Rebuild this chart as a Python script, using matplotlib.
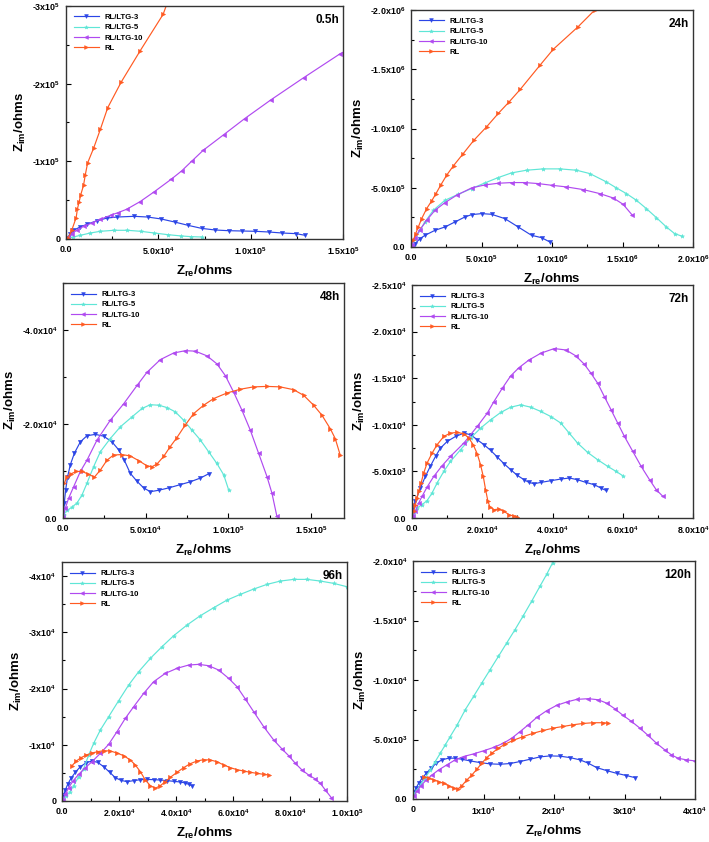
import matplotlib
matplotlib.use("Agg")
import matplotlib.pyplot as plt
from matplotlib.ticker import AutoMinorLocator

plt.rcParams['font.family'] = ['Liberation Sans', 'DejaVu Sans']
plt.rcParams['font.weight'] = 'bold'
plt.rcParams['mathtext.fontset'] = 'custom'
plt.rcParams['mathtext.rm'] = 'Liberation Sans:bold'
plt.rcParams['mathtext.bf'] = 'Liberation Sans:bold'
plt.rcParams['mathtext.it'] = 'Liberation Sans:bold'
plt.rcParams['mathtext.default'] = 'bf'

series_names = ["RL/LTG-3", "RL/LTG-5", "RL/LTG-10", "RL"]
panel_titles = ["0.5h", "24h", "48h", "72h", "96h", "120h"]

# ---------------- 0.5 h ----------------
h05_ltg3_x = [900, 2200, 4000, 7700, 11300, 16800, 22300, 27700, 36900, 44200, 51500, 58800, 66100, 73400, 80700, 88000, 95300, 102600, 109900, 117200, 124500, 129600]
h05_ltg3_y = [-1700, -6900, -11200, -15500, -18900, -23600, -27000, -28300, -29200, -28300, -25800, -21900, -17600, -13700, -11600, -10700, -10300, -9900, -9000, -7700, -6900, -4700]
h05_ltg5_x = [1300, 4000, 7700, 13100, 18600, 25900, 33200, 40500, 47800, 55100, 62400, 67900, 73400]
h05_ltg5_y = [-900, -2600, -4700, -7700, -9900, -11200, -11200, -9900, -7700, -5600, -3900, -3000, -2600]
h05_ltg10_x = [1300, 3100, 5800, 9500, 14100, 18600, 24100, 28100, 32800, 40100, 47600, 56900, 62600, 68400, 74300, 85400, 96700, 111100, 128700, 148500, 151500]
h05_ltg10_y = [-2600, -6900, -11200, -16300, -20600, -25300, -30500, -33900, -38200, -48100, -60500, -76800, -87600, -100900, -114200, -134300, -154900, -179400, -207700, -238600, -242100]
h05_rl_x = [1300, 3100, 5500, 6200, 7100, 8000, 9500, 10400, 11700, 15000, 18600, 22600, 29900, 40100, 52600, 55000]
h05_rl_y = [-1700, -11200, -27500, -39000, -47600, -57100, -69100, -82000, -97900, -117200, -141200, -169100, -202100, -242100, -289300, -305000]

# ---------------- 24 h ----------------
h24_ltg3_x = [11800, 28300, 63800, 99200, 170000, 240900, 311700, 382500, 429800, 500600, 571400, 665900, 760300, 854800, 925600, 984700]
h24_ltg3_y = [-5600, -28200, -70400, -98600, -140800, -169000, -211300, -253500, -273200, -281700, -276100, -239400, -169000, -98600, -78900, -42300]
h24_ltg5_x = [4700, 28300, 63800, 99200, 158200, 240900, 335300, 429800, 524200, 618700, 713100, 819400, 937400, 1055500, 1173600, 1268000, 1386100, 1456900, 1527700, 1598600, 1669400, 1740300, 1811100, 1870100, 1924400]
h24_ltg5_y = [-14100, -70400, -140800, -211300, -309900, -394400, -445100, -493000, -540800, -585900, -625400, -647900, -659200, -659200, -647900, -619700, -549300, -498600, -450700, -394400, -323900, -247900, -169000, -112700, -90100]
h24_ltg10_x = [4700, 28300, 63800, 111000, 170000, 240900, 323500, 429800, 524200, 618700, 713100, 807600, 902000, 996500, 1102700, 1220800, 1338800, 1433300, 1504100, 1570200]
h24_ltg10_y = [-14100, -78900, -146500, -225400, -309900, -374600, -436600, -498600, -523900, -538000, -543700, -543700, -535200, -521100, -507000, -484500, -450700, -414100, -360600, -267600]
h24_rl_x = [16500, 33100, 51900, 75600, 111000, 146400, 177100, 210200, 252700, 302200, 370700, 446300, 536000, 618700, 696600, 774500, 913800, 1008300, 1185400, 1303400]
h24_rl_y = [-56300, -112700, -169000, -239400, -323900, -388700, -450700, -521100, -605600, -687300, -788700, -901400, -1014100, -1126800, -1225400, -1329600, -1532400, -1667600, -1859200, -2000000]

# ---------------- 48 h ----------------
h48_ltg3_x = [200, 800, 1600, 2800, 4400, 6900, 10500, 14500, 19600, 24600, 29600, 33700, 37100, 40700, 44800, 48800, 52800, 57900, 63900, 71000, 77000, 83100, 88100]
h48_ltg3_y = [-350, -3200, -6000, -8800, -11300, -13800, -16200, -17500, -17800, -17400, -16200, -14500, -12300, -9500, -7800, -6400, -5600, -5900, -6400, -7100, -7700, -8500, -9400]
h48_ltg5_x = [400, 2400, 5400, 8500, 11500, 14500, 18500, 22600, 28600, 34700, 41700, 47800, 52800, 57900, 62900, 67900, 73000, 78000, 83100, 88100, 93100, 97200, 100200]
h48_ltg5_y = [-700, -1600, -2300, -3200, -4900, -7400, -10900, -14100, -16900, -19400, -21500, -23300, -24100, -24000, -23500, -22600, -20800, -18700, -16600, -14100, -11600, -9200, -6000]
h48_ltg10_x = [200, 1400, 3400, 6500, 10500, 14500, 20600, 28600, 36700, 44800, 50800, 58900, 66900, 74000, 80000, 87100, 93100, 98200, 103200, 108300, 113300, 118300, 123400, 126400, 129400]
h48_ltg10_y = [-200, -2100, -4200, -6700, -9900, -12300, -16600, -20800, -24300, -28200, -31000, -33700, -35100, -35600, -35500, -34500, -32800, -30300, -26800, -22900, -18700, -13800, -8800, -5300, -350]
h48_rl_x = [800, 2400, 4800, 8100, 11500, 14900, 19000, 22600, 26600, 30600, 35700, 40700, 45800, 50800, 53800, 56900, 60900, 64900, 68900, 74000, 79000, 85100, 91100, 99200, 107300, 115300, 123400, 131400, 139500, 145600, 151600, 156600, 161700, 164700, 167700]
h48_rl_y = [-7400, -8700, -9400, -9900, -9900, -9400, -8700, -10200, -12300, -13400, -13500, -13200, -12200, -11100, -10900, -11500, -13100, -15200, -17100, -19800, -22200, -24000, -25400, -26600, -27400, -27900, -28000, -27900, -27300, -26100, -24000, -21900, -19000, -16900, -13400]

# ---------------- 72 h ----------------
h72_ltg3_x = [200, 950, 2400, 3800, 5200, 6700, 8100, 10000, 12400, 14800, 16700, 18600, 20500, 22400, 24300, 26200, 28100, 30000, 31900, 33300, 34800, 36700, 39500, 42400, 44800, 47100, 49500, 51900, 53800, 55200]
h72_ltg3_y = [-1070, -1790, -3210, -4460, -5540, -6610, -7500, -8210, -8750, -9110, -8930, -8390, -7860, -7250, -6540, -5820, -5180, -4570, -4110, -3820, -3680, -3820, -4000, -4180, -4290, -4110, -3820, -3570, -3210, -2960]
h72_ltg5_x = [290, 670, 1430, 2860, 4290, 5710, 7140, 9050, 10950, 13810, 16670, 19520, 22380, 25240, 28100, 30950, 33810, 36670, 39520, 42380, 44760, 47140, 50000, 52860, 55720, 58100, 60000]
h72_ltg5_y = [-180, -610, -1070, -1430, -1860, -2680, -3750, -5000, -6070, -7320, -8570, -9640, -10530, -11320, -11890, -12140, -11890, -11430, -10890, -10180, -9110, -8040, -7040, -6250, -5540, -5000, -4540]
h72_ltg10_x = [290, 950, 1900, 2860, 4290, 6190, 8570, 10950, 14760, 18570, 21430, 23330, 25720, 28100, 30480, 33330, 36670, 40480, 43810, 46670, 49050, 50950, 52860, 54760, 56670, 58570, 60480, 62860, 65240, 67620, 69520, 71430]
h72_ltg10_y = [-180, -710, -1610, -2320, -3320, -4460, -5610, -6610, -8040, -9820, -11250, -12500, -13930, -15250, -16140, -16960, -17680, -18180, -18030, -17390, -16500, -15530, -14460, -13030, -11610, -10180, -8750, -7140, -5540, -4110, -3040, -2320]
h72_rl_x = [480, 950, 1430, 1900, 2570, 3330, 4290, 5710, 7140, 9050, 10950, 12860, 14760, 16190, 17430, 18570, 19520, 20290, 20950, 21620, 22190, 23330, 24760, 26190, 27620, 29050, 30000]
h72_rl_y = [-710, -1430, -2140, -2860, -3750, -4820, -5890, -6960, -7860, -8750, -9110, -9180, -9040, -8570, -7860, -6890, -5710, -4460, -3040, -1790, -1180, -890, -960, -710, -360, -180, -110]

# ---------------- 96 h ----------------
h96_ltg3_x = [120, 590, 1170, 1990, 3160, 4680, 6430, 8540, 10530, 12520, 14620, 16730, 18710, 20700, 22810, 25150, 27490, 29830, 32160, 34500, 36840, 39180, 41520, 43280, 44450, 45610]
h96_ltg3_y = [-360, -1070, -1960, -2960, -4030, -5100, -6100, -6820, -7110, -6870, -6100, -5100, -4150, -3670, -3440, -3620, -3790, -3850, -3790, -3730, -3620, -3500, -3380, -3200, -2960, -2730]
h96_ltg5_x = [350, 1520, 2690, 4090, 5850, 7600, 9360, 11110, 13450, 16370, 19880, 23390, 26900, 30990, 35090, 39180, 43860, 48540, 53220, 57900, 62570, 67250, 71930, 76610, 81290, 85970, 90640, 95320, 100000]
h96_ltg5_y = [-360, -950, -1540, -2730, -4330, -5750, -8180, -10250, -12620, -14990, -17840, -20620, -22990, -25360, -27440, -29390, -31290, -32950, -34370, -35730, -36740, -37690, -38520, -39110, -39410, -39410, -39110, -38700, -38100]
h96_ltg10_x = [350, 1170, 2340, 3860, 5850, 8190, 10530, 13450, 16370, 19300, 22220, 25150, 28660, 32160, 36260, 40350, 44450, 47950, 51460, 54970, 58480, 61400, 64330, 67250, 70760, 74270, 77190, 79530, 81870, 84210, 86550, 88890, 90640, 92400, 94500]
h96_ltg10_y = [-240, -1190, -2370, -3560, -4740, -5930, -6990, -8470, -10070, -12330, -14700, -16770, -19140, -21220, -22700, -23590, -24180, -24300, -24060, -23290, -21810, -20330, -18130, -15880, -13220, -10850, -9250, -8060, -6700, -5510, -4620, -3910, -3140, -1960, -590]
h96_rl_x = [3510, 5030, 6670, 8540, 10530, 12520, 14620, 16960, 19300, 21640, 23980, 25730, 27490, 29240, 30990, 32750, 34500, 36260, 38010, 40350, 42690, 45030, 47370, 49710, 52050, 54390, 56730, 59070, 61400, 63740, 66080, 68420, 70760, 72520]
h96_rl_y = [-6280, -7110, -7700, -8180, -8530, -8770, -8950, -8890, -8530, -8060, -7290, -6400, -5220, -3730, -2730, -2250, -2730, -3440, -4210, -5100, -5930, -6640, -7110, -7350, -7290, -6990, -6400, -5930, -5570, -5330, -5100, -4920, -4740, -4620]

# ---------------- 120 h ----------------
h120_ltg3_x = [190, 470, 800, 1270, 1890, 2550, 3300, 4100, 5050, 5990, 6930, 8110, 9530, 10940, 12360, 13770, 15190, 16600, 18020, 19430, 20850, 22260, 23680, 24860, 26040, 27450, 28870, 30280, 31460]
h120_ltg3_y = [-620, -960, -1320, -1740, -2160, -2580, -3010, -3290, -3430, -3430, -3340, -3200, -3060, -2950, -2920, -2980, -3150, -3340, -3540, -3620, -3600, -3480, -3290, -3010, -2640, -2390, -2160, -1970, -1800]
h120_ltg5_x = [90, 570, 1130, 1750, 2450, 3160, 3870, 4580, 5280, 6230, 7410, 8590, 9760, 10940, 12120, 13300, 14480, 15660, 16840, 18020, 18960, 19810]
h120_ltg5_y = [-390, -760, -1240, -1800, -2440, -3150, -3850, -4550, -5250, -6180, -7500, -8620, -9750, -10870, -11990, -13120, -14240, -15420, -16630, -17890, -18880, -19860]
h120_ltg10_x = [190, 570, 1130, 1890, 2690, 3630, 4810, 5990, 7170, 8590, 10000, 11420, 12830, 14010, 15190, 16370, 17550, 18960, 20380, 21790, 23210, 24860, 26270, 27450, 28630, 29810, 30990, 32170, 33350, 34530, 35710, 36650, 37590, 38770, 40000]
h120_ltg10_y = [-280, -670, -1120, -1600, -2020, -2440, -2870, -3290, -3570, -3790, -4050, -4330, -4690, -5110, -5670, -6240, -6850, -7420, -7870, -8150, -8370, -8430, -8340, -8060, -7580, -7020, -6520, -5960, -5340, -4690, -4130, -3710, -3430, -3290, -3200]
h120_rl_x = [1600, 2220, 2930, 3630, 4340, 5050, 5760, 6320, 6930, 7640, 8350, 9060, 9760, 10470, 11180, 12120, 13070, 14250, 15660, 17080, 18490, 19910, 21320, 22740, 24150, 25570, 26980, 27690]
h120_rl_y = [-1880, -1740, -1600, -1460, -1320, -1120, -900, -820, -1120, -1600, -2020, -2500, -3010, -3480, -3850, -4270, -4610, -4940, -5250, -5530, -5760, -5960, -6100, -6240, -6350, -6410, -6410, -6380]

# ---------------- tick values and labels ----------------
p1_xticks = [0, 5e4, 1e5, 1.5e5]
p1_xlabels = ["0.0", "5.0x10$^4$", "1.0x10$^5$", "1.5x10$^5$"]
p1_yticks = [0, -1e5, -2e5, -3e5]
p1_ylabels = ["0", "-1x10$^5$", "-2x10$^5$", "-3x10$^5$"]
p2_xticks = [0, 5e5, 1e6, 1.5e6, 2e6]
p2_xlabels = ["0.0", "5.0x10$^5$", "1.0x10$^6$", "1.5x10$^6$", "2.0x10$^6$"]
p2_yticks = [0, -5e5, -1e6, -1.5e6, -2e6]
p2_ylabels = ["0.0", "-5.0x10$^5$", "-1.0x10$^6$", "-1.5x10$^6$", "-2.0x10$^6$"]
p3_xticks = [0, 5e4, 1e5, 1.5e5]
p3_xlabels = ["0.0", "5.0x10$^4$", "1.0x10$^5$", "1.5x10$^5$"]
p3_yticks = [0, -2e4, -4e4]
p3_ylabels = ["0.0", "-2.0x10$^4$", "-4.0x10$^4$"]
p4_xticks = [0, 2e4, 4e4, 6e4, 8e4]
p4_xlabels = ["0.0", "2.0x10$^4$", "4.0x10$^4$", "6.0x10$^4$", "8.0x10$^4$"]
p4_yticks = [0, -5e3, -1e4, -1.5e4, -2e4, -2.5e4]
p4_ylabels = ["0.0", "-5.0x10$^3$", "-1.0x10$^4$", "-1.5x10$^4$", "-2.0x10$^4$", "-2.5x10$^4$"]
p5_xticks = [0, 2e4, 4e4, 6e4, 8e4, 1e5]
p5_xlabels = ["0.0", "2.0x10$^4$", "4.0x10$^4$", "6.0x10$^4$", "8.0x10$^4$", "1.0x10$^5$"]
p5_yticks = [0, -1e4, -2e4, -3e4, -4e4]
p5_ylabels = ["0", "-1x10$^4$", "-2x10$^4$", "-3x10$^4$", "-4x10$^4$"]
p6_xticks = [0, 1e4, 2e4, 3e4, 4e4]
p6_xlabels = ["0", "1x10$^4$", "2x10$^4$", "3x10$^4$", "4x10$^4$"]
p6_yticks = [0, -5e3, -1e4, -1.5e4, -2e4]
p6_ylabels = ["0.0", "-5.0x10$^3$", "-1.0x10$^4$", "-1.5x10$^4$", "-2.0x10$^4$"]

colors = ["#2b45e6", "#5fe6d6", "#b04af0", "#ff5a22"]
markers = ["v", "*", "<", ">"]

panels = [
    dict(rect=[66, 6, 343, 239], title=panel_titles[0],
         data=[(h05_ltg3_x, h05_ltg3_y), (h05_ltg5_x, h05_ltg5_y), (h05_ltg10_x, h05_ltg10_y), (h05_rl_x, h05_rl_y)],
         xlim=(0, 1.5e5), ylim=(0, -3e5), xt=(p1_xticks, p1_xlabels), yt=(p1_yticks, p1_ylabels)),
    dict(rect=[411, 10, 693, 247], title=panel_titles[1],
         data=[(h24_ltg3_x, h24_ltg3_y), (h24_ltg5_x, h24_ltg5_y), (h24_ltg10_x, h24_ltg10_y), (h24_rl_x, h24_rl_y)],
         xlim=(0, 2e6), ylim=(0, -2e6), xt=(p2_xticks, p2_xlabels), yt=(p2_yticks, p2_ylabels)),
    dict(rect=[63, 283, 344, 518], title=panel_titles[2],
         data=[(h48_ltg3_x, h48_ltg3_y), (h48_ltg5_x, h48_ltg5_y), (h48_ltg10_x, h48_ltg10_y), (h48_rl_x, h48_rl_y)],
         xlim=(0, 1.7e5), ylim=(0, -5e4), xt=(p3_xticks, p3_xlabels), yt=(p3_yticks, p3_ylabels)),
    dict(rect=[412, 285, 693, 518], title=panel_titles[3],
         data=[(h72_ltg3_x, h72_ltg3_y), (h72_ltg5_x, h72_ltg5_y), (h72_ltg10_x, h72_ltg10_y), (h72_rl_x, h72_rl_y)],
         xlim=(0, 8e4), ylim=(0, -2.5e4), xt=(p4_xticks, p4_xlabels), yt=(p4_yticks, p4_ylabels)),
    dict(rect=[62, 562, 347, 801], title=panel_titles[4],
         data=[(h96_ltg3_x, h96_ltg3_y), (h96_ltg5_x, h96_ltg5_y), (h96_ltg10_x, h96_ltg10_y), (h96_rl_x, h96_rl_y)],
         xlim=(0, 1e5), ylim=(0, -4.25e4), xt=(p5_xticks, p5_xlabels), yt=(p5_yticks, p5_ylabels)),
    dict(rect=[413, 561, 695, 799], title=panel_titles[5],
         data=[(h120_ltg3_x, h120_ltg3_y), (h120_ltg5_x, h120_ltg5_y), (h120_ltg10_x, h120_ltg10_y), (h120_rl_x, h120_rl_y)],
         xlim=(0, 4e4), ylim=(0, -2e4), xt=(p6_xticks, p6_xlabels), yt=(p6_yticks, p6_ylabels)),
]

W, H = 709, 842
fig = plt.figure(figsize=(W / 100, H / 100), dpi=100)

for p in panels:
    x0, y0, x1, y1 = p["rect"]
    ax = fig.add_axes([x0 / W, 1 - y1 / H, (x1 - x0) / W, (y1 - y0) / H])
    for (xs, ys), name, c, m in zip(p["data"], series_names, colors, markers):
        ax.plot(xs, ys, color=c, marker=m, markersize=3.0, linewidth=0.85,
                markeredgewidth=0.4, label=name, clip_on=True)
    ax.set_xlim(*p["xlim"])
    ax.set_ylim(*p["ylim"])
    ax.set_xticks(p["xt"][0])
    ax.set_xticklabels(p["xt"][1])
    ax.set_yticks(p["yt"][0])
    ax.set_yticklabels(p["yt"][1])
    ax.xaxis.set_minor_locator(AutoMinorLocator(2))
    ax.yaxis.set_minor_locator(AutoMinorLocator(2))
    ax.tick_params(which='both', direction='in', labelsize=6.4, width=0.8)
    ax.tick_params(which='major', length=3.5)
    ax.tick_params(axis='x', which='major', pad=4.5)
    ax.tick_params(axis='y', which='major', pad=4.0)
    ax.tick_params(which='minor', length=2)
    for s in ax.spines.values():
        s.set_linewidth(1.0)
        s.set_color('#333333')
    ax.set_xlabel("Z$_{re}$/ohms", fontsize=9.5, fontweight='bold', labelpad=5)
    ax.set_ylabel("Z$_{im}$/ohms", fontsize=9.5, fontweight='bold', labelpad=3)
    ax.text(0.985, 0.965, p["title"], transform=ax.transAxes, ha='right', va='top',
            fontsize=8.5, fontweight='bold')
    ax.legend(loc='upper left', bbox_to_anchor=(0.0, 1.0), frameon=False,
              prop={'size': 5.6, 'weight': 'bold'}, handlelength=3.2,
              labelspacing=0.35, borderaxespad=0.6, markerscale=0.9)

fig.savefig("out.png", dpi=100)
